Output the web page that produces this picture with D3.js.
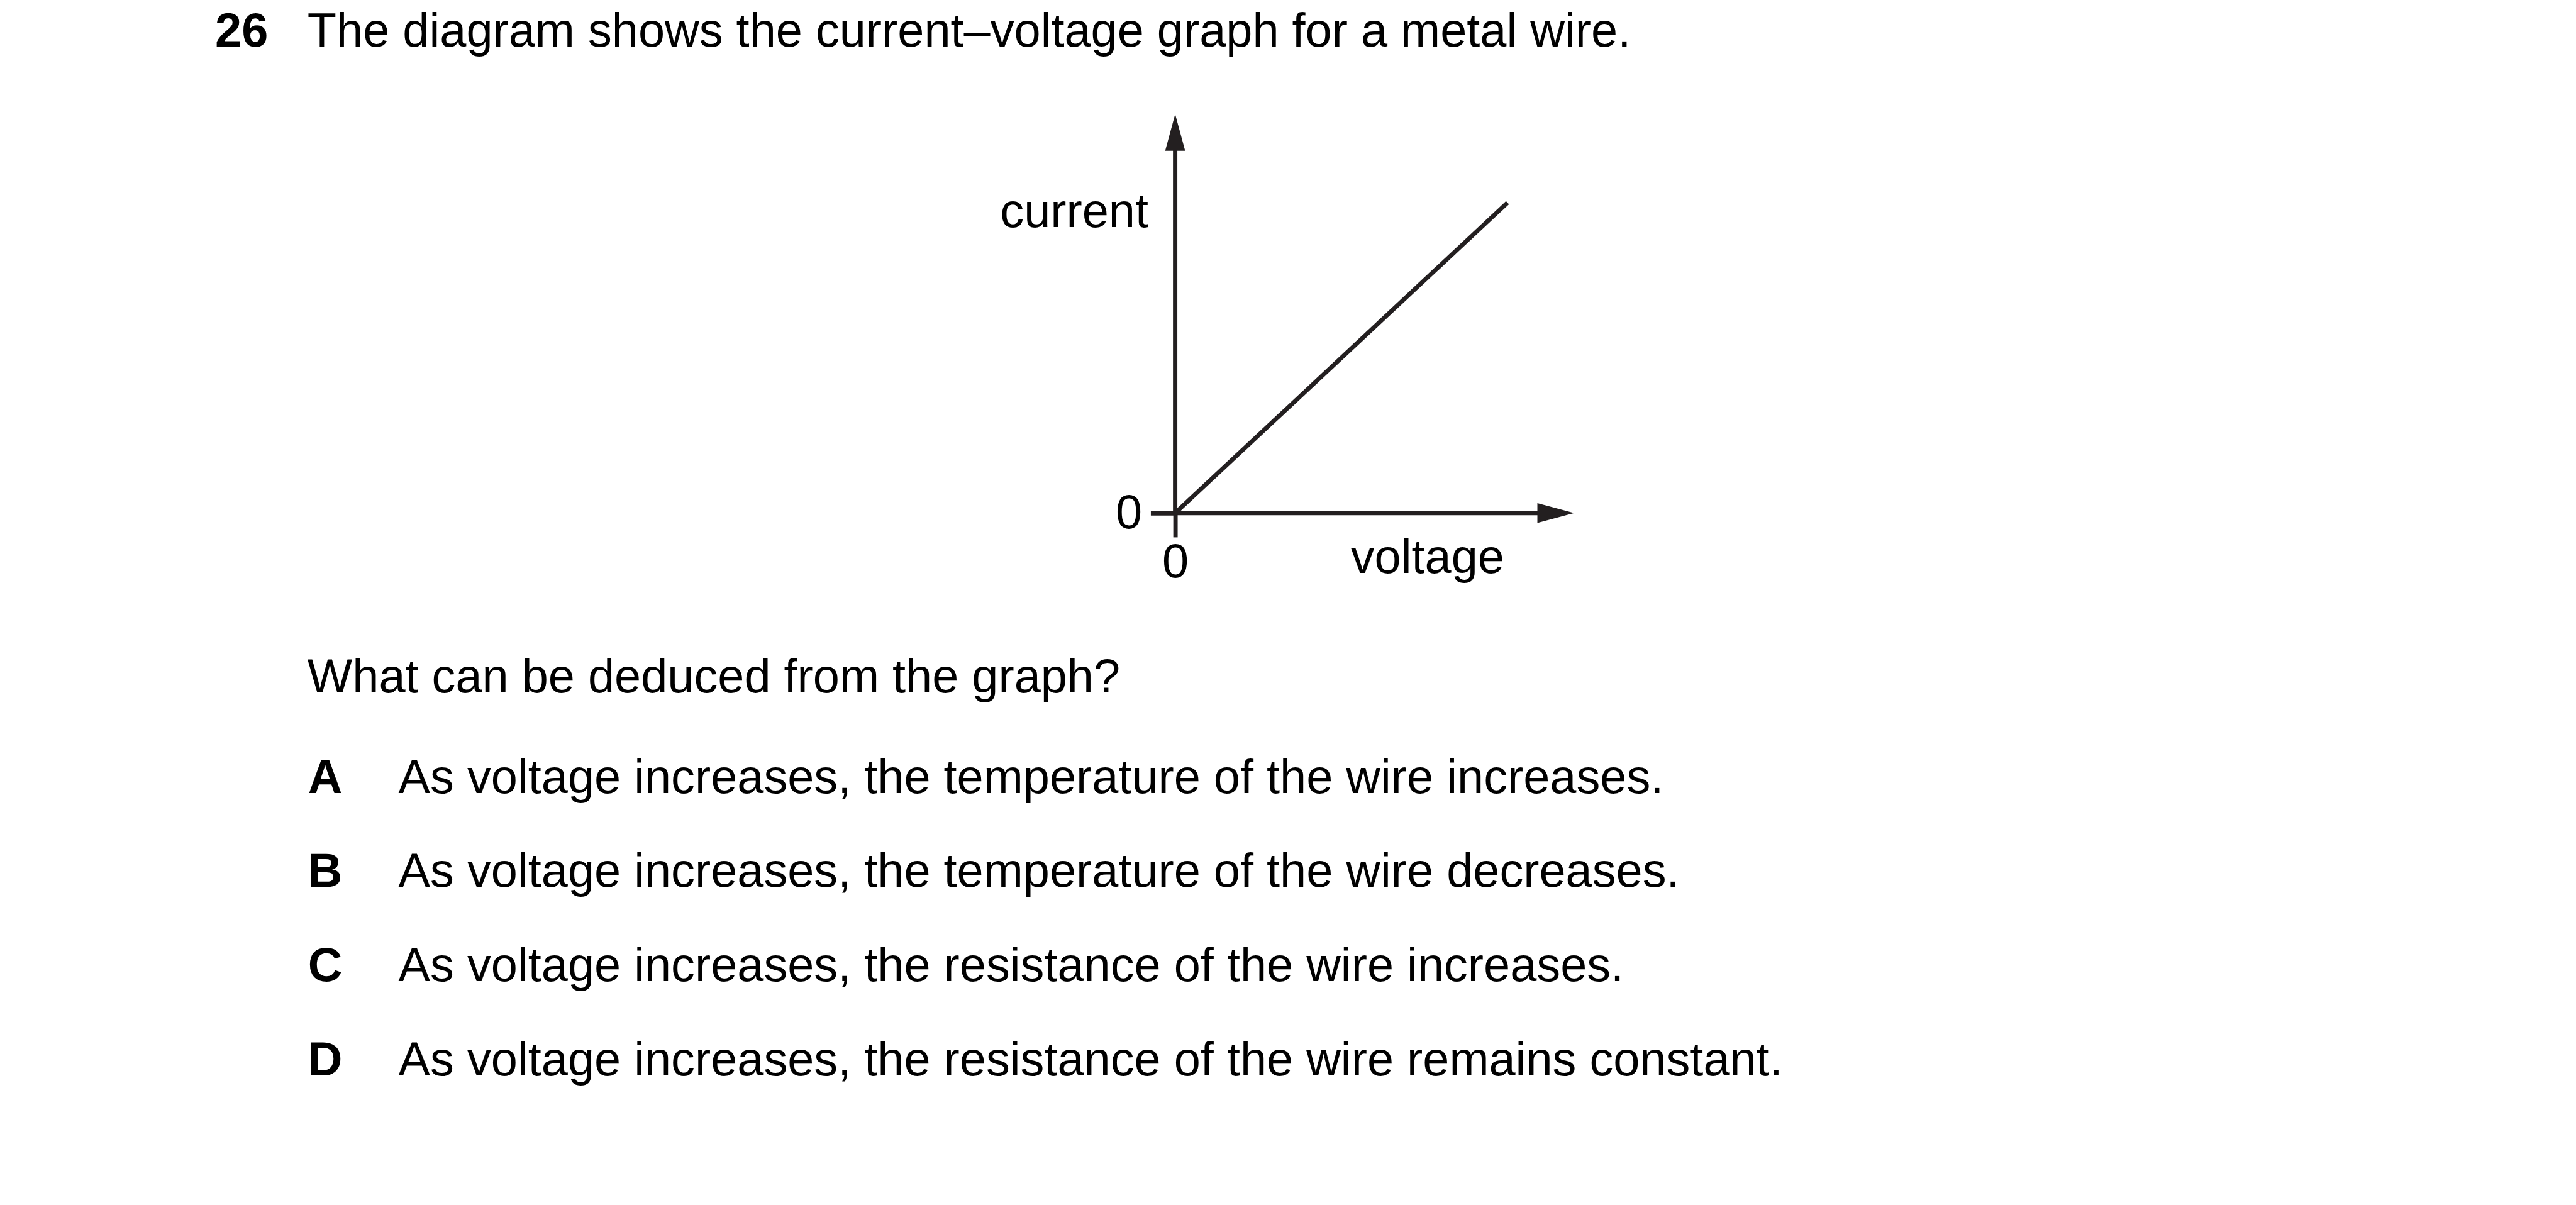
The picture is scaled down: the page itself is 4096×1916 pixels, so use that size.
<!DOCTYPE html>
<html>
<head>
<meta charset="utf-8">
<script src="https://cdn.jsdelivr.net/npm/d3@7/dist/d3.min.js"></script>
<style>
  html, body { margin: 0; padding: 0; background: #fff; overflow: hidden; }
  svg { display: block; }
  text { font-family: "Liberation Sans", Arial, Helvetica, sans-serif; fill: #000; }
</style>
</head>
<body>
<svg id="chart" width="4096" height="1916" viewBox="0 0 4132 1933"></svg>
<script>
// ---- data ----
const questionNumber = "26";
const questionText = "The diagram shows the current\u2013voltage graph for a metal wire.";
const prompt = "What can be deduced from the graph?";
const optionLetters = ["A", "B", "C", "D"];
const optionTexts = [
  "As voltage increases, the temperature of the wire increases.",
  "As voltage increases, the temperature of the wire decreases.",
  "As voltage increases, the resistance of the wire increases.",
  "As voltage increases, the resistance of the wire remains constant."
];
const voltage = [0, 8.33];
const current = [0, 7.78];
const xTicks = [0];
const yTicks = [0];
const xLabel = "voltage";
const yLabel = "current";

// ---- layout ----
const svg = d3.select("#chart");
const ink = "#231f20";
const fs = 76.4;
const sw = 7;

const x = d3.scaleLinear().domain([0, 10]).range([1885, 2525]);
const y = d3.scaleLinear().domain([0, 10]).range([823, 183]);

// header
svg.append("text").attr("x", 345).attr("y", 75)
  .attr("font-size", fs).attr("font-weight", "bold").text(questionNumber);
svg.append("text").attr("x", 493).attr("y", 75)
  .attr("font-size", fs).text(questionText);

// axes with ticks at 0
const gx = svg.append("g").attr("transform", `translate(0,${y(0)})`)
  .call(d3.axisBottom(x).tickValues(xTicks).tickSize(39).tickPadding(10).tickSizeOuter(0).tickFormat(d3.format("d")));
const gy = svg.append("g").attr("transform", `translate(${x(0)},0)`)
  .call(d3.axisLeft(y).tickValues(yTicks).tickSize(39).tickPadding(14).tickSizeOuter(0).tickFormat(d3.format("d")));
[gx, gy].forEach(g => {
  g.select(".domain").remove();
  g.selectAll(".tick line").attr("stroke", ink).attr("stroke-width", sw);
  g.selectAll(".tick text").attr("font-size", fs).attr("fill", "#000")
    .style("font-family", '"Liberation Sans", Arial, sans-serif');
});

// axis lines
const arrowLen = 59, arrowHalf = 16;
svg.append("line").attr("x1", x(0)).attr("y1", y(0)).attr("x2", x(10) - arrowLen + 2).attr("y2", y(0))
  .attr("stroke", ink).attr("stroke-width", sw);
svg.append("line").attr("x1", x(0)).attr("y1", y(0) + 3).attr("x2", x(0)).attr("y2", y(10) + arrowLen - 2)
  .attr("stroke", ink).attr("stroke-width", sw);
// arrowheads
svg.append("polygon")
  .attr("points", [[x(10), y(0)], [x(10) - arrowLen, y(0) - arrowHalf], [x(10) - arrowLen, y(0) + arrowHalf]].map(p => p.join(",")).join(" "))
  .attr("fill", ink);
svg.append("polygon")
  .attr("points", [[x(0), y(10)], [x(0) - arrowHalf, y(10) + arrowLen], [x(0) + arrowHalf, y(10) + arrowLen]].map(p => p.join(",")).join(" "))
  .attr("fill", ink);

// data line
const pts = voltage.map((v, i) => [v, current[i]]);
svg.append("path").datum(pts)
  .attr("d", d3.line().x(d => x(d[0])).y(d => y(d[1])))
  .attr("fill", "none").attr("stroke", ink).attr("stroke-width", sw);

// axis labels
svg.append("text").attr("x", 1842).attr("y", 364).attr("text-anchor", "end")
  .attr("font-size", fs).text(yLabel);
svg.append("text").attr("x", 2413).attr("y", 919).attr("text-anchor", "end")
  .attr("font-size", fs).text(xLabel);

// prompt and options
svg.append("text").attr("x", 493).attr("y", 1111).attr("font-size", fs).text(prompt);
const optY = d3.scalePoint().domain(optionLetters).range([1272, 1725]);
optionLetters.forEach((l, i) => {
  svg.append("text").attr("x", 494).attr("y", optY(l)).attr("font-size", fs)
    .attr("font-weight", "bold").text(l);
  svg.append("text").attr("x", 639).attr("y", optY(l)).attr("font-size", fs).text(optionTexts[i]);
});
</script>
</body>
</html>
